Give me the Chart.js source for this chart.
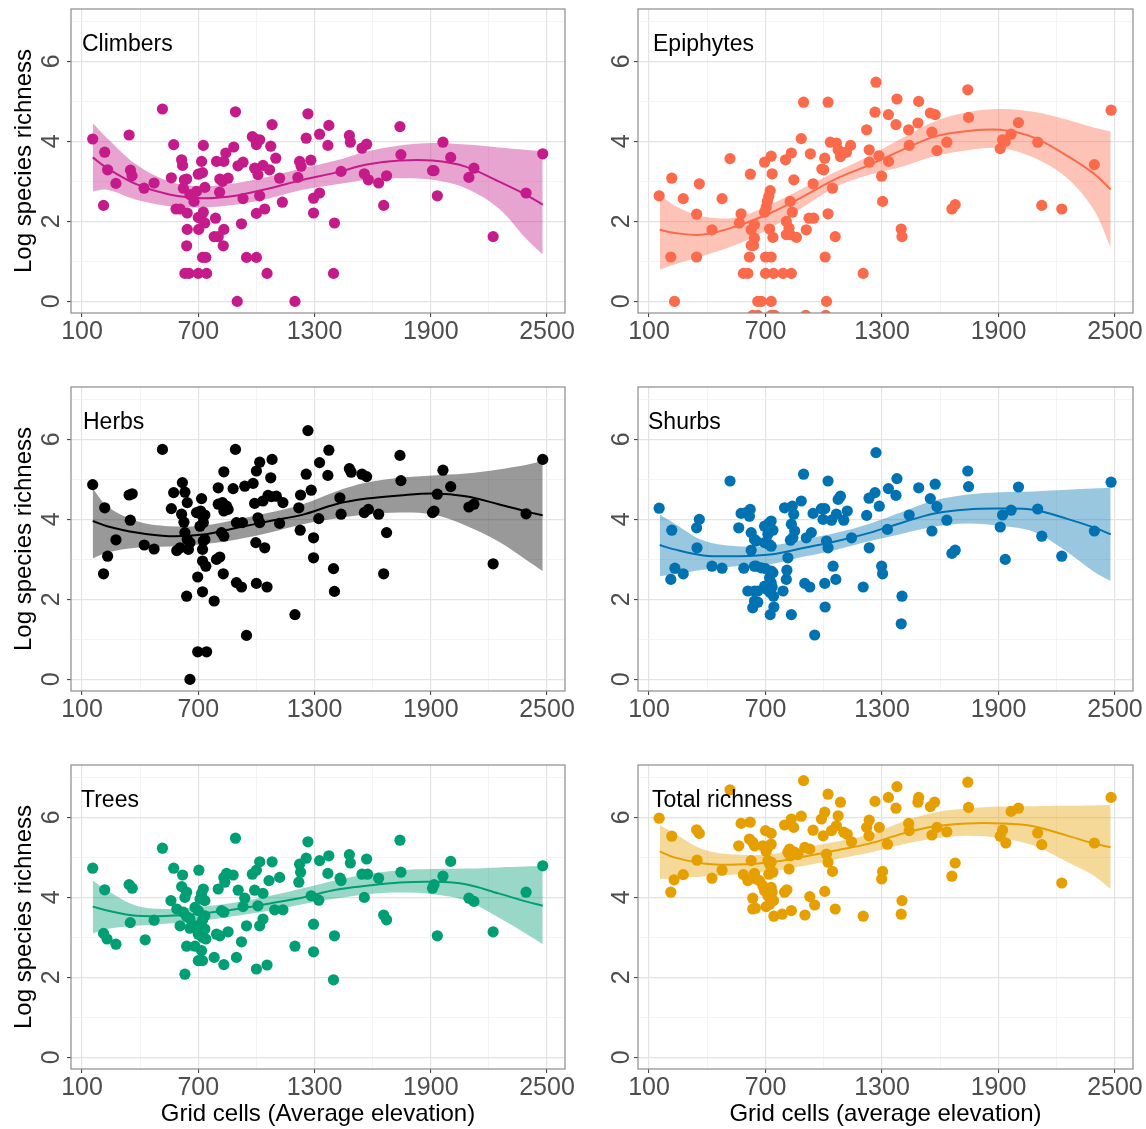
<!DOCTYPE html>
<html lang="en">
<head>
<meta charset="UTF-8">
<title>Species richness along elevation</title>
<script src="https://cdn.jsdelivr.net/npm/chart.js"></script>
<style>
  body { margin: 0; background: #fff; }
  #wrap { position: relative; width: 1146px; height: 1129px; overflow: hidden; background: #fff; }
  #wrap canvas { position: absolute; }
</style>
</head>
<body>
<div id="wrap"></div>
<script>
// axis ticks: every 300 m / 1 unit gets a gridline, only some get a label
const xTicks = [100, 400, 700, 1000, 1300, 1600, 1900, 2200, 2500];
const xLabels = [100, 700, 1300, 1900, 2500];
const yTicks = [0, 1, 2, 3, 4, 5, 6, 7];
const yLabels = [0, 2, 4, 6];

const fitElev = [155, 230, 380, 550, 725, 900, 1070, 1240, 1410, 1570, 1740, 1910, 2080, 2250, 2390, 2478];

// grid cells: [average elevation, log species richness]
const climbers = [
  [155,4.06],[217,3.73],[232,3.29],[211,2.40],[275,2.95],[343,4.16],[350,3.28],[358,3.14],[420,2.83],[472,2.96],
  [515,4.81],[573,3.92],[561,3.09],[614,3.54],[619,3.40],[628,3.04],[640,3.06],[623,2.83],[657,2.67],[678,2.50],
  [691,2.75],[700,3.18],[722,3.22],[734,2.85],[717,3.50],[726,3.90],[585,2.31],[606,2.31],[643,2.21],[643,1.80],
  [640,1.39],[631,0.70],[652,0.70],[700,0.70],[743,0.70],[722,1.10],[739,1.10],[700,2.10],[714,2.07],[726,2.23],
  [734,1.96],[702,1.80],[789,2.08],[782,1.62],[803,1.62],[832,1.80],[829,1.39],[794,3.50],[832,3.50],[842,3.71],
  [811,3.06],[825,3.00],[854,3.08],[810,2.73],[883,3.86],[892,4.74],[905,3.39],[931,3.48],[923,1.94],[931,2.57],
  [949,1.10],[1000,1.10],[901,0.00],[979,4.12],[991,4.07],[1017,4.04],[1000,3.92],[991,3.33],[1008,3.17],[1034,3.40],
  [1068,3.29],[1017,2.64],[1000,2.20],[1043,2.31],[1055,0.70],[1074,3.88],[1081,4.42],[1100,3.58],[1120,3.08],[1134,2.48],
  [1199,0.00],[1214,3.10],[1223,3.50],[1231,3.38],[1257,4.08],[1266,4.69],[1281,3.53],[1295,2.58],[1295,2.21],[1326,4.18],
  [1326,2.71],[1374,4.40],[1369,3.90],[1403,1.96],[1398,0.70],[1437,3.25],[1480,4.15],[1485,3.98],[1545,3.83],[1569,3.93],
  [1557,3.19],[1578,3.04],[1631,2.96],[1657,2.40],[1672,3.14],[1741,4.37],[1746,3.67],[1909,3.27],[1917,3.27],[1934,2.64],
  [1963,3.98],[2003,3.60],[2097,3.10],[2123,3.33],[2222,1.62],[2392,2.71],[2478,3.69]
];
const climbersFit = [3.60, 3.33, 2.93, 2.67, 2.58, 2.65, 2.83, 3.04, 3.22, 3.42, 3.52, 3.52, 3.37, 3.00, 2.67, 2.42];
const climbersHi  = [4.46, 4.08, 3.42, 3.00, 2.88, 2.96, 3.13, 3.33, 3.52, 3.75, 3.90, 3.96, 3.92, 3.85, 3.79, 3.75];
const climbersLo  = [2.75, 2.79, 2.54, 2.38, 2.35, 2.42, 2.58, 2.79, 2.92, 3.04, 3.08, 3.04, 2.83, 2.33, 1.58, 1.17];

const epiphytes = [
  [152,2.64],[217,3.08],[276,2.57],[345,2.18],[359,2.94],[212,1.11],[345,1.11],[231,0.00],[424,1.79],[476,2.57],
  [517,3.57],[574,2.19],[565,1.96],[622,3.18],[626,1.79],[643,1.92],[643,1.58],[638,1.40],[626,1.40],[617,1.11],
  [586,0.70],[609,0.70],[660,0.00],[678,0.00],[729,0.00],[634,-0.35],[660,-0.35],[729,-0.35],[747,-0.35],[907,-0.35],
  [1010,-0.35],[695,3.48],[729,3.63],[734,3.19],[724,2.77],[717,2.63],[709,2.50],[703,2.35],[695,2.23],[721,1.81],
  [738,1.60],[700,1.11],[729,1.11],[700,0.70],[741,0.70],[790,0.70],[833,0.70],[803,3.54],[833,3.71],[846,3.04],
  [827,2.50],[838,2.23],[807,2.00],[821,1.83],[827,1.67],[859,1.60],[807,1.67],[884,4.07],[896,4.98],[910,1.79],
  [924,2.08],[948,2.08],[931,3.69],[945,2.94],[990,3.31],[1000,3.29],[1005,3.58],[1022,4.98],[1034,3.98],[1045,2.83],
  [1065,3.96],[1074,3.79],[1086,3.62],[1100,3.71],[1117,3.73],[1138,3.90],[1022,2.19],[1007,1.11],[1059,1.62],[1014,0.00],
  [1203,0.70],[1221,4.29],[1234,3.79],[1234,3.48],[1264,4.73],[1269,5.48],[1284,3.64],[1298,3.13],[1303,2.50],[1333,4.67],
  [1334,3.50],[1377,5.06],[1372,4.42],[1437,4.29],[1440,3.90],[1489,5.00],[1485,4.46],[1549,4.71],[1574,4.67],[1557,4.23],
  [1583,3.77],[1634,3.98],[1399,1.81],[1403,1.62],[1660,2.31],[1677,2.42],[1742,5.29],[1746,4.60],[1909,3.82],[1921,4.04],
  [1935,4.00],[1965,4.18],[2003,4.47],[2102,3.98],[2123,2.40],[2226,2.31],[2394,3.42],[2480,4.78]
];
const epiphytesFit = [1.79, 1.71, 1.67, 1.88, 2.21, 2.64, 3.08, 3.42, 3.80, 4.12, 4.26, 4.29, 4.10, 3.65, 3.20, 2.80];
const epiphytesHi  = [2.67, 2.40, 2.12, 2.10, 2.42, 2.85, 3.26, 3.65, 4.10, 4.50, 4.73, 4.81, 4.74, 4.55, 4.35, 4.25];
const epiphytesLo  = [0.79, 0.92, 1.14, 1.42, 1.83, 2.38, 2.88, 3.17, 3.38, 3.63, 3.78, 3.83, 3.60, 3.10, 2.30, 1.35];

const herbs = [
  [155,4.87],[217,4.29],[232,3.08],[211,2.64],[275,3.49],[343,4.61],[359,4.64],[349,3.98],[421,3.36],[472,3.26],
  [515,5.75],[573,4.67],[561,4.27],[618,4.92],[631,4.68],[643,4.42],[614,4.13],[626,3.93],[631,3.67],[643,3.50],
  [657,3.42],[649,3.25],[606,3.29],[589,3.22],[717,4.52],[691,4.17],[712,4.21],[722,4.08],[734,4.11],[726,3.92],
  [709,3.83],[726,3.46],[734,3.50],[722,3.25],[722,2.96],[739,2.83],[697,2.56],[722,2.19],[640,2.08],[782,1.96],
  [697,0.69],[743,0.69],[657,0.00],[794,3.00],[811,3.06],[803,4.79],[832,5.19],[829,2.64],[803,4.38],[825,4.42],
  [846,4.33],[832,4.21],[854,4.25],[820,3.67],[832,3.58],[880,4.77],[892,5.75],[897,3.92],[928,3.92],[897,2.42],
  [923,2.31],[949,1.10],[940,4.83],[983,4.90],[991,4.40],[1000,5.21],[1017,5.43],[1008,4.04],[1017,3.92],[997,3.42],
  [1043,3.29],[1000,2.40],[1055,2.31],[1034,4.46],[1060,4.60],[1077,4.57],[1103,4.58],[1137,4.42],[1074,5.04],[1081,5.50],
  [1120,3.90],[1199,1.62],[1219,4.29],[1228,4.61],[1257,5.13],[1266,6.22],[1283,4.73],[1226,3.73],[1295,3.54],[1295,3.04],
  [1326,5.42],[1322,4.02],[1374,5.73],[1369,5.10],[1398,2.77],[1403,2.20],[1431,4.54],[1437,4.13],[1480,5.27],[1489,5.18],
  [1545,5.13],[1569,5.07],[1557,4.17],[1578,4.25],[1631,4.13],[1672,3.67],[1657,2.64],[1741,5.60],[1746,4.97],[1909,4.17],
  [1917,4.21],[1934,4.63],[1963,5.23],[2003,4.82],[2097,4.31],[2123,4.38],[2222,2.89],[2392,4.14],[2478,5.50]
];
const herbsFit = [3.96, 3.83, 3.67, 3.58, 3.62, 3.79, 3.96, 4.12, 4.38, 4.52, 4.60, 4.65, 4.58, 4.38, 4.20, 4.10];
const herbsHi  = [4.77, 4.33, 3.96, 3.83, 3.85, 4.00, 4.17, 4.38, 4.70, 4.92, 5.04, 5.10, 5.15, 5.25, 5.36, 5.46];
const herbsLo  = [3.02, 3.17, 3.29, 3.32, 3.38, 3.50, 3.67, 3.88, 4.02, 4.12, 4.17, 4.12, 3.85, 3.45, 3.00, 2.71];

const shurbs = [
  [152,4.28],[217,3.73],[233,2.78],[212,2.50],[276,2.64],[345,3.79],[359,4.00],[347,3.29],[424,2.83],[476,2.78],
  [517,4.96],[574,4.15],[600,4.17],[621,4.25],[617,4.08],[562,3.79],[626,3.67],[643,3.50],[652,3.46],[626,3.23],
  [588,2.78],[643,2.83],[652,2.83],[678,2.79],[609,2.21],[643,2.21],[660,2.21],[643,1.96],[634,1.79],[660,1.93],
  [695,3.83],[717,3.90],[729,3.96],[738,3.73],[712,3.63],[695,3.42],[717,3.38],[729,3.33],[700,2.77],[729,2.71],
  [738,2.67],[721,2.54],[729,2.42],[695,2.33],[707,2.25],[724,2.17],[741,2.08],[734,2.31],[743,1.81],[724,1.62],
  [798,4.29],[838,4.33],[845,4.13],[833,3.88],[850,3.71],[841,3.54],[828,3.48],[815,3.04],[810,2.73],[807,2.50],
  [790,2.21],[833,1.62],[884,4.46],[896,5.13],[910,3.54],[936,3.67],[945,4.15],[902,2.40],[928,2.31],[953,1.11],
  [988,4.27],[1005,4.27],[996,4.00],[1040,3.98],[1065,4.13],[1074,4.50],[1086,4.58],[1103,3.98],[1121,4.21],[1022,4.96],
  [1014,3.46],[1022,3.29],[1048,2.83],[1005,2.40],[1062,2.50],[1007,1.81],[1143,3.54],[1221,4.10],[1233,4.53],[1264,4.67],
  [1286,4.33],[1269,5.67],[1234,3.29],[1203,2.31],[1298,2.83],[1303,2.64],[1328,3.75],[1333,4.77],[1377,5.02],[1372,4.60],
  [1440,4.11],[1403,2.08],[1399,1.39],[1489,4.79],[1549,4.52],[1574,4.88],[1583,4.32],[1557,3.71],[1634,3.98],[1660,3.15],
  [1677,3.23],[1742,5.21],[1746,4.82],[1909,3.81],[1921,4.11],[1965,4.23],[1935,3.00],[2003,4.81],[2102,4.26],[2123,3.58],
  [2226,3.08],[2394,3.71],[2480,4.93]
];
const shurbsFit = [3.36, 3.25, 3.10, 3.08, 3.12, 3.29, 3.46, 3.67, 3.93, 4.15, 4.25, 4.27, 4.24, 4.02, 3.80, 3.63];
const shurbsHi  = [4.12, 3.90, 3.47, 3.33, 3.35, 3.50, 3.67, 3.90, 4.20, 4.47, 4.62, 4.68, 4.70, 4.74, 4.77, 4.79];
const shurbsLo  = [2.58, 2.62, 2.74, 2.83, 2.88, 3.07, 3.25, 3.46, 3.65, 3.82, 3.90, 3.84, 3.69, 3.20, 2.70, 2.46];

const trees = [
  [155,4.73],[217,4.19],[211,3.10],[229,2.96],[275,2.83],[343,4.32],[359,4.23],[349,3.37],[426,2.94],[472,3.43],
  [515,5.23],[573,4.73],[619,4.56],[614,4.27],[640,4.13],[631,4.00],[559,3.92],[589,3.71],[623,3.63],[640,3.52],
  [657,3.46],[606,3.29],[657,3.23],[678,3.29],[640,2.78],[683,2.78],[717,2.67],[700,2.42],[722,2.42],[631,2.08],
  [703,4.68],[726,4.21],[717,4.10],[734,3.92],[709,3.96],[683,3.75],[700,3.67],[734,3.54],[722,3.43],[712,3.33],
  [734,3.21],[700,3.08],[722,3.00],[739,2.96],[782,2.50],[832,2.32],[803,4.21],[794,3.08],[811,3.04],[854,3.14],
  [832,4.50],[846,4.60],[837,4.38],[820,3.67],[832,3.63],[880,4.56],[892,5.48],[906,4.18],[897,2.50],[923,2.89],
  [931,3.77],[940,3.98],[949,3.29],[1000,2.21],[1055,2.31],[979,4.58],[1000,4.68],[1017,4.89],[991,4.18],[1034,4.10],
  [1065,4.42],[1081,4.89],[1120,4.50],[1008,3.79],[1034,3.46],[1017,3.29],[1094,3.69],[1137,3.69],[1199,2.78],[1219,4.38],
  [1228,4.63],[1223,4.83],[1257,4.98],[1266,5.39],[1283,4.04],[1295,3.33],[1295,2.64],[1326,4.92],[1322,3.93],[1374,5.04],
  [1369,4.60],[1403,3.04],[1398,1.94],[1432,4.48],[1437,4.42],[1480,5.07],[1485,4.86],[1545,4.58],[1574,4.58],[1569,4.96],
  [1557,4.00],[1631,4.48],[1657,3.56],[1672,3.44],[1741,5.43],[1746,4.63],[1909,4.23],[1917,4.32],[1963,4.53],[1934,3.04],
  [2003,4.90],[2097,3.98],[2123,3.90],[2222,3.14],[2392,4.13],[2478,4.79]
];
const treesFit = [3.77, 3.67, 3.54, 3.54, 3.60, 3.71, 3.85, 4.00, 4.19, 4.29, 4.37, 4.39, 4.33, 4.10, 3.90, 3.79];
const treesHi  = [4.42, 4.17, 3.79, 3.71, 3.77, 3.88, 4.04, 4.23, 4.43, 4.58, 4.68, 4.71, 4.72, 4.75, 4.77, 4.79];
const treesLo  = [3.10, 3.21, 3.29, 3.35, 3.42, 3.54, 3.67, 3.83, 3.97, 4.08, 4.12, 4.08, 3.92, 3.50, 3.10, 2.83];

const total = [
  [152,5.98],[217,5.53],[229,4.44],[212,4.13],[276,4.57],[345,5.69],[359,5.60],[347,4.93],[424,4.48],[476,4.68],
  [517,6.69],[574,5.85],[621,5.88],[562,5.29],[617,5.46],[634,5.38],[643,5.29],[626,4.92],[586,4.57],[609,4.42],
  [643,4.60],[652,4.46],[634,3.98],[648,3.73],[634,3.71],[669,4.42],[686,4.29],[695,4.17],[712,4.04],[729,4.25],
  [734,4.13],[741,3.92],[721,3.83],[703,3.77],[700,5.67],[729,5.60],[686,5.29],[712,5.25],[729,5.33],[703,5.15],
  [721,4.83],[712,4.92],[729,4.88],[717,4.58],[738,4.63],[743,3.53],[786,3.58],[798,5.81],[833,5.96],[845,5.75],
  [815,5.13],[824,5.21],[828,5.04],[850,5.13],[867,5.07],[821,4.71],[798,4.13],[810,4.19],[833,3.67],[884,6.03],
  [896,6.92],[902,5.25],[928,5.21],[945,5.68],[928,4.02],[953,3.81],[903,3.56],[988,5.96],[1005,6.13],[997,5.54],
  [1022,6.58],[1040,5.67],[1065,5.79],[1074,6.04],[1086,6.38],[1103,5.63],[1121,5.58],[1014,5.08],[1022,4.88],[1045,4.65],
  [1005,4.15],[1059,3.71],[1143,5.39],[1203,3.53],[1221,5.75],[1234,5.93],[1233,5.54],[1264,6.40],[1286,5.75],[1303,4.65],
  [1298,4.46],[1333,6.50],[1328,5.33],[1377,6.77],[1372,6.23],[1437,5.85],[1440,5.67],[1403,3.92],[1399,3.58],[1489,6.50],
  [1485,6.38],[1549,6.27],[1571,6.38],[1557,5.56],[1583,5.75],[1634,5.64],[1660,4.53],[1677,4.86],[1742,6.88],[1746,6.25],
  [1909,5.53],[1921,5.68],[1938,5.36],[1965,6.15],[2003,6.23],[2102,5.61],[2123,5.32],[2226,4.36],[2394,5.36],[2480,6.50]
];
const totalFit = [5.15, 5.00, 4.85, 4.82, 4.88, 5.02, 5.18, 5.35, 5.60, 5.78, 5.85, 5.85, 5.78, 5.55, 5.35, 5.25];
const totalHi  = [5.81, 5.60, 5.20, 5.07, 5.08, 5.25, 5.40, 5.58, 5.90, 6.12, 6.22, 6.27, 6.28, 6.29, 6.30, 6.31];
const totalLo  = [4.46, 4.48, 4.52, 4.57, 4.65, 4.79, 4.96, 5.12, 5.33, 5.47, 5.54, 5.48, 5.30, 4.90, 4.55, 4.21];

const FONT = '"Liberation Sans", Arial, sans-serif';

// canvas blocks for the 2 x 3 grid
const cols = [
  { left: 0,   width: 590, yAxisW: 71, padRight: 25, yLabelGap: 12 },
  { left: 590, width: 556, yAxisW: 48, padRight: 13, yLabelGap: 9 }
];
const rows = [
  { top: 0,   height: 378 },
  { top: 378, height: 378 },
  { top: 756, height: 373 }
];
const PLOT_TOP = 9, PLOT_BOTTOM = 313;

const panels = [
  { label: 'Climbers',       pts: climbers,  fit: climbersFit,  hi: climbersHi,  lo: climbersLo,  color: '#C51B8A', band: 'rgba(197,27,138,0.4)', col: 0, row: 0, dx: 11 },
  { label: 'Epiphytes',      pts: epiphytes, fit: epiphytesFit, hi: epiphytesHi, lo: epiphytesLo, color: '#FB6A4A', band: 'rgba(251,106,74,0.4)', col: 1, row: 0, dx: 15 },
  { label: 'Herbs',          pts: herbs,     fit: herbsFit,     hi: herbsHi,     lo: herbsLo,     color: '#000000', band: 'rgba(0,0,0,0.4)',      col: 0, row: 1, dx: 12 },
  { label: 'Shurbs',         pts: shurbs,    fit: shurbsFit,    hi: shurbsHi,    lo: shurbsLo,    color: '#0072B2', band: 'rgba(0,114,178,0.4)',  col: 1, row: 1, dx: 10 },
  { label: 'Trees',          pts: trees,     fit: treesFit,     hi: treesHi,     lo: treesLo,     color: '#009E73', band: 'rgba(0,158,115,0.4)',  col: 0, row: 2, dx: 10 },
  { label: 'Total richness', pts: total,     fit: totalFit,     hi: totalHi,     lo: totalLo,     color: '#E69F00', band: 'rgba(230,159,0,0.4)',  col: 1, row: 2, dx: 14 }
];
const xTitles = ['Grid cells (Average elevation)', 'Grid cells (average elevation)'];

// panel border, facet label and tick labels (y ones are turned 90 degrees)
const panelDeco = {
  id: 'panelDeco',
  afterDraw(chart, args, opts) {
    const { ctx, chartArea: a } = chart;
    const x = chart.scales.x, y = chart.scales.y;
    ctx.save();
    ctx.strokeStyle = '#8c8c8c';
    ctx.lineWidth = 1.2;
    ctx.strokeRect(a.left, a.top, a.right - a.left, a.bottom - a.top);

    ctx.fillStyle = '#000';
    ctx.font = '23px ' + FONT;
    ctx.textAlign = 'left';
    ctx.textBaseline = 'alphabetic';
    ctx.fillText(opts.label, a.left + opts.dx, a.top + 41.7);

    ctx.fillStyle = '#4d4d4d';
    ctx.font = '25px ' + FONT;
    ctx.textAlign = 'center';
    ctx.textBaseline = 'middle';
    xLabels.forEach(v => {
      ctx.fillText(String(v), x.getPixelForValue(v), a.bottom + 19);
    });

    ctx.textBaseline = 'alphabetic';
    yLabels.forEach(v => {
      ctx.save();
      ctx.translate(a.left - opts.yGap, y.getPixelForValue(v));
      ctx.rotate(-Math.PI / 2);
      ctx.fillText(String(v), 0, 0);
      ctx.restore();
    });
    ctx.restore();
  }
};

const wrap = document.getElementById('wrap');

function gridOpts(isMajor) {
  return {
    color: c => isMajor(c.tick.value) ? '#e3e3e3' : '#f1f1f1',
    lineWidth: c => isMajor(c.tick.value) ? 1.2 : 0.8,
    drawTicks: true,
    tickLength: 4,
    tickWidth: 1,
    tickColor: c => isMajor(c.tick.value) ? '#333333' : 'rgba(0,0,0,0)'
  };
}

panels.forEach(p => {
  const col = cols[p.col], row = rows[p.row];
  const cv = document.createElement('canvas');
  cv.width = col.width;
  cv.height = row.height;
  cv.style.left = col.left + 'px';
  cv.style.top = row.top + 'px';
  wrap.appendChild(cv);

  const pts = p.pts.map(d => ({ x: d[0], y: d[1] }));
  const curve = ys => fitElev.map((x, i) => ({ x: x, y: ys[i] }));

  new Chart(cv, {
    type: 'scatter',
    data: {
      datasets: [
        { data: pts, backgroundColor: p.color, borderWidth: 0, pointRadius: 5.6, pointHoverRadius: 5.6, clip: 0 },
        { type: 'line', data: curve(p.fit), borderColor: p.color, borderWidth: 2, pointRadius: 0, tension: 0.35, fill: false, clip: 0 },
        { type: 'line', data: curve(p.hi), borderColor: 'rgba(0,0,0,0)', borderWidth: 0, pointRadius: 0, tension: 0.35,
          fill: '+1', backgroundColor: p.band, clip: 0 },
        { type: 'line', data: curve(p.lo), borderColor: 'rgba(0,0,0,0)', borderWidth: 0, pointRadius: 0, tension: 0.35, fill: false, clip: 0 }
      ]
    },
    options: {
      responsive: false,
      animation: false,
      events: [],
      layout: { padding: { left: 0, right: col.padRight, top: PLOT_TOP, bottom: 0 }, autoPadding: false },
      plugins: {
        legend: { display: false },
        tooltip: { enabled: false },
        panelDeco: { label: p.label, dx: p.dx, yGap: col.yLabelGap }
      },
      scales: {
        x: {
          type: 'linear',
          min: 43,
          max: 2593,
          afterBuildTicks: s => { s.ticks = xTicks.map(v => ({ value: v })); },
          afterFit: s => { s.height = row.height - PLOT_BOTTOM; },
          border: { display: false },
          grid: gridOpts(v => xLabels.includes(v)),
          ticks: { display: false },
          title: {
            display: p.row === 2, text: xTitles[p.col], color: '#000',
            font: { family: FONT, size: 24 }, padding: { top: 0, bottom: 0 }
          }
        },
        y: {
          type: 'linear',
          min: -0.29,
          max: 7.31,
          afterBuildTicks: s => { s.ticks = yTicks.map(v => ({ value: v })); },
          afterFit: s => { s.width = col.yAxisW; },
          border: { display: false },
          grid: gridOpts(v => yLabels.includes(v)),
          ticks: { display: false },
          title: {
            display: p.col === 0, text: 'Log species richness', color: '#000',
            font: { family: FONT, size: 24 }, padding: { top: 10, bottom: 0 }
          }
        }
      }
    },
    plugins: [panelDeco]
  });
});
</script>
</body>
</html>
